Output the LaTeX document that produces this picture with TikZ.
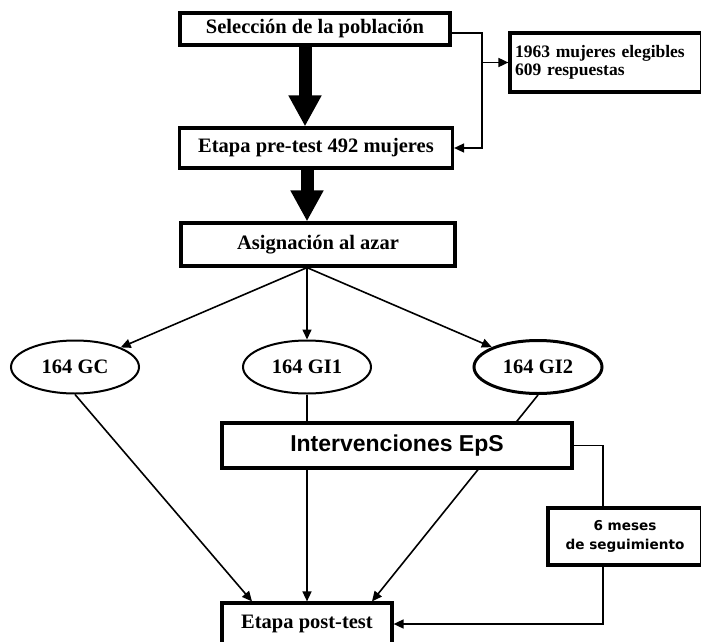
\documentclass[tikz,border=0pt]{standalone}
\usepackage{fontspec}
\setmainfont{Liberation Serif}
\setsansfont{Liberation Sans}
\newfontfamily\anchaSans{DejaVu Sans}
\usetikzlibrary{arrows.meta,shapes.geometric}
\newcommand{\CajaTxt}{\fontsize{20.5}{24}\selectfont\bfseries}
\newcommand{\NotaTxt}{\fontsize{17.5}{18}\selectfont\bfseries}
\newcommand{\EpsTxt}{\fontsize{23}{26}\selectfont\sffamily\bfseries}
\newcommand{\SegTxt}{\fontsize{13.6}{19}\selectfont\anchaSans\bfseries}

\begin{document}
\begin{tikzpicture}[x=1pt,y=-1pt,
  box/.style={draw,line width=3.2pt,fill=white,inner sep=0pt,font=\CajaTxt},
  oval/.style={ellipse,draw,line width=2pt,fill=white,minimum width=128pt,minimum height=53pt,inner sep=0pt,font=\CajaTxt},
  conn/.style={line width=1.6pt},
  flecha/.style={conn,-{Triangle[length=10pt,width=9pt]}},
  gruesa/.style={line width=13pt,-{Triangle[length=31pt,width=31pt]}}]
\useasboundingbox (0,0) rectangle (701,642);

\node[box,minimum width=270pt,minimum height=32pt] (sel) at (315,29) {Selección de la población};
\node[box,minimum height=59pt,text width=182pt,align=left,inner sep=5pt,font=\NotaTxt] (resp) at (606,62.5) {1963 mujeres elegibles\\609 respuestas};
\node[box,minimum width=273pt,minimum height=40pt] (pre) at (316,148) {Etapa pre-test 492 mujeres};
\node[box,minimum width=274pt,minimum height=43pt] (asig) at (318,244.5) {Asignación al azar};

\node[oval] (gc) at (75,367) {164 GC};
\node[oval] (gi1) at (307,367) {164 GI1};
\node[oval,line width=3pt] (gi2) at (538,367) {164 GI2};

\node[box,minimum width=154pt,minimum height=57pt,align=center,font=\SegTxt] (seis) at (625,536.5) {6 meses\\de seguimiento};
\node[box,minimum width=170pt,minimum height=42pt] (post) at (307,624) {Etapa post-test};

\coordinate (split) at (482,62.5);
\coordinate (raiz) at ([xshift=-11pt]asig.south);

\draw[gruesa] ([xshift=-10pt]sel.south) -- ([xshift=-11pt]pre.north);
\draw[gruesa] ([xshift=-9pt]pre.south) -- ([xshift=-11pt]asig.north);

\draw[conn] ([yshift=-4pt]sel.east) -| (split);
\draw[flecha] (split) |- (pre.east);
\draw[flecha] (split) -- (resp.west);

\draw[flecha] (raiz) -- (gc);
\draw[flecha] (raiz) -- (gi1);
\draw[flecha] (raiz) -- (gi2);

\draw[flecha] (gc.south) -- ([xshift=-55pt]post.north);
\draw[flecha] (gi1.south) -- (post.north);
\draw[flecha] (gi2.south) -- ([xshift=65pt]post.north);

\node[box,minimum width=350pt,minimum height=45pt,font=\EpsTxt] (interv) at (397,445.5) {Intervenciones EpS};

\draw[conn] (interv.east) -| ([xshift=-22pt]seis.north);
\draw[flecha] ([xshift=-22pt]seis.south) |- (post.east);
\end{tikzpicture}
\end{document}
